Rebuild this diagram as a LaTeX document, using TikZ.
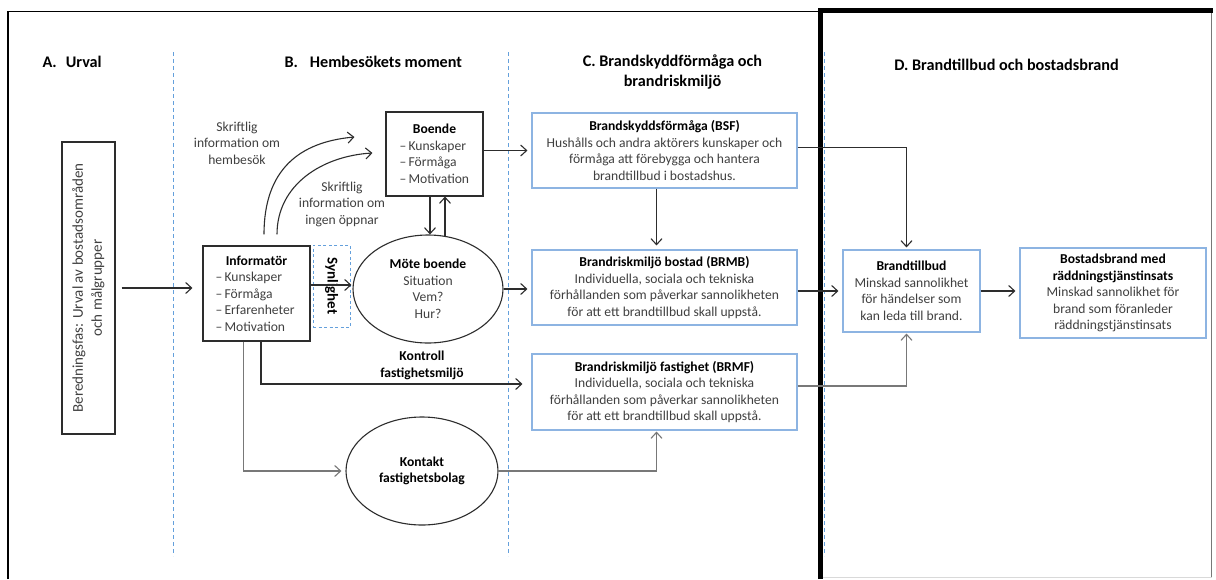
\documentclass[tikz,border=0pt]{standalone}
\usepackage{fontspec}
\setmainfont{Carlito}
\usetikzlibrary{arrows.meta,calc,shapes.geometric}
\definecolor{boxblue}{RGB}{141,180,226}
\definecolor{dashblue}{RGB}{100,160,220}
\definecolor{ink}{RGB}{45,45,45}
\definecolor{txt}{RGB}{64,64,64}
\definecolor{grayline}{RGB}{120,120,120}
\newcommand{\headtxt}[1]{\textbf{\color{black}#1}}
\newcommand{\dashitem}[2]{\makebox[#1][l]{–\,#2}}
\begin{document}
\begin{tikzpicture}[x=1pt,y=-1pt,
  every node/.style={font=\fontsize{13.6}{16.5}\selectfont, text=txt},
  blackbox/.style={draw=ink, line width=1.1pt, inner sep=2pt, align=center},
  bluebox/.style={draw=boxblue, line width=1.1pt, align=center, inner sep=2pt},
  ell/.style={draw=ink, ellipse, line width=1.1pt, align=center, inner sep=0pt},
  arr/.style={draw=ink, line width=1.1pt, -{Straight Barb[length=6pt,width=11pt]}},
  garr/.style={arr, draw=grayline},
  sepline/.style={draw=dashblue, line width=1pt, dash pattern=on 4pt off 3pt},
  title/.style={font=\fontsize{16.2}{20}\selectfont\bfseries, text=black, align=center},
  lbl/.style={align=center},
]
\useasboundingbox (0,0) rectangle (1216,579);
\fill[white] (0,0) rectangle (1216,579);

% frames
\draw[black, line width=1.5pt] (8,579) -- (8,11.5) -- (820,11.5);
\draw[grayline, line width=1pt] (1211.5,10) -- (1211.5,577);
\draw[black!15, line width=1pt] (821,577.5) -- (1211.5,577.5);
\draw[black, line width=4.5pt] (820.5,579) -- (820.5,10.5) -- (1213,10.5);

% separators
\draw[sepline] (173,52) -- (173,556);
\draw[sepline] (508,52) -- (508,556);
\draw[sepline] (824,52) -- (824,556);

% titles
\node[title, anchor=west] (ta) at (39,62) {A.\hspace{9pt}Urval};
\node[title, anchor=west] (tb) at (281,62) {B.\hspace{12pt}Hembesökets moment};
\node[title] (tc) at (672.5,72) {C. Brandskyddförmåga och\\brandriskmiljö};
\node[title] (td) at (1006.5,65) {D. Brandtillbud och bostadsbrand};

% A
\node[blackbox, minimum width=53, minimum height=292, font=\fontsize{15}{19}\selectfont] (urval) at (88.5,288)
  {\rotatebox{90}{\begin{tabular}{@{}c@{}}Beredningsfas: Urval av bostadsområden\\och målgrupper\end{tabular}}};

% B
\node[blackbox, minimum width=107, minimum height=95] (informator) at (256.5,293.5)
  {\headtxt{Informatör}\\\dashitem{82pt}{Kunskaper}\\\dashitem{82pt}{Förmåga}\\\dashitem{82pt}{Erfarenheter}\\\dashitem{82pt}{Motivation}};
\node[draw=dashblue, line width=1pt, dash pattern=on 3pt off 2.5pt, minimum width=37, minimum height=82, inner sep=0pt, font=\fontsize{15}{18}\selectfont] (synlighet) at (331.5,286)
  {\rotatebox{-90}{\headtxt{Synlighet}}};
\node[blackbox, minimum width=97, minimum height=84] (boende) at (434.5,154)
  {\headtxt{Boende}\\\dashitem{70pt}{Kunskaper}\\\dashitem{70pt}{Förmåga}\\\dashitem{70pt}{Motivation}};
\node[ell, minimum width=150, minimum height=108] (moete) at (428,289)
  {\headtxt{Möte boende}\\Situation\\Vem?\\Hur?};
\node[ell, minimum width=152, minimum height=108] (kontakt) at (422,471)
  {\headtxt{Kontakt}\\\headtxt{fastighetsbolag}};
\node[lbl] (l1) at (237,143) {Skriftlig\\information om\\hembesök};
\node[lbl] (l2) at (342,204) {Skriftlig\\information om\\ingen öppnar};
\node[lbl] (l3) at (422,365.5) {\headtxt{Kontroll}\\\headtxt{fastighetsmiljö}};

% C
\node[bluebox, minimum width=265, minimum height=75] (bsf) at (664.5,150.5)
  {\headtxt{Brandskyddsförmåga (BSF)}\\Hushålls och andra aktörers kunskaper och\\förmåga att förebygga och hantera\\brandtillbud i bostadshus.};
\node[bluebox, minimum width=265, minimum height=75] (brmb) at (664.5,287.5)
  {\headtxt{Brandriskmiljö bostad (BRMB)}\\Individuella, sociala och tekniska\\förhållanden som påverkar sannolikheten\\för att ett brandtillbud skall uppstå.};
\node[bluebox, minimum width=265, minimum height=76] (brmf) at (664.5,392)
  {\headtxt{Brandriskmiljö fastighet (BRMF)}\\Individuella, sociala och tekniska\\förhållanden som påverkar sannolikheten\\för att ett brandtillbud skall uppstå.};

% D
\node[bluebox, minimum width=137, minimum height=82] (tillbud) at (911.5,291)
  {\headtxt{Brandtillbud}\\Minskad sannolikhet\\för händelser som\\kan leda till brand.};
\node[bluebox, minimum width=186, minimum height=90] (bostad) at (1113,293)
  {\headtxt{Bostadsbrand med}\\\headtxt{räddningstjänstinsats}\\Minskad sannolikhet för\\brand som föranleder\\räddningstjänstinsats};

% connectors
\draw[arr, shorten <=6pt, shorten >=10pt] (urval.east) -- (informator.west |- urval.east);
\coordinate (c1s) at ($(informator.north)+(7.5,-11)$);
\coordinate (c2s) at ($(informator.north)+(20.5,-11)$);
\coordinate (c1e) at ($(boende.west)+(-31,-17)$);
\coordinate (c2e) at ($(boende.west)+(-13,-1)$);
\draw[arr] (c1s) .. controls ($(c1s)+(0,-65)$) and ($(c1e)+(-55,5)$) .. (c1e);
\draw[arr] (c2s) .. controls ($(c2s)+(0,-50)$) and ($(c2e)+(-50,3)$) .. (c2e);
\draw[arr, shorten >=1pt] ($(informator.east)+(0,-8.5)$) -- ($(moete.west)+(0,-4)$);
\draw[arr] ($(boende.south)+(-4.5,0)$) -- ($(moete.north)+(2,0)$);
\draw[arr] ($(moete.north)+(17,1.5)$) -- ($(boende.south)+(10.5,0)$);
\draw[arr, shorten >=4pt] (boende.east |- bsf.west) -- (bsf.west);
\draw[arr, shorten >=4pt] (moete.east) -- (brmb.west |- moete.east);
\draw[arr, shorten >=4pt] ($(bsf.south)+(-8,0)$) -- ($(brmb.north)+(-8,0)$);
\draw[arr, shorten >=9pt] ($(informator.south)+(4.5,0)$) |- ($(brmf.west)+(0,-8)$);
\draw[garr, shorten >=4pt] ($(informator.south)+(-13,0)$) |- (kontakt.west);
\draw[garr, shorten >=1pt] (kontakt.east) -| ($(brmf.south)+(-8,0)$);
\draw[arr, shorten >=2pt] ($(bsf.east)+(0,-3)$) -| ($(tillbud.north)+(-5,0)$);
\draw[arr, shorten >=4pt] (brmb.east |- tillbud.west) -- (tillbud.west);
\draw[garr, shorten >=1pt] ($(brmf.east)+(0,-6)$) -| ($(tillbud.south)+(-5,0)$);
\draw[arr, shorten >=4pt] (tillbud.east) -- (bostad.west |- tillbud.east);
\end{tikzpicture}
\end{document}
